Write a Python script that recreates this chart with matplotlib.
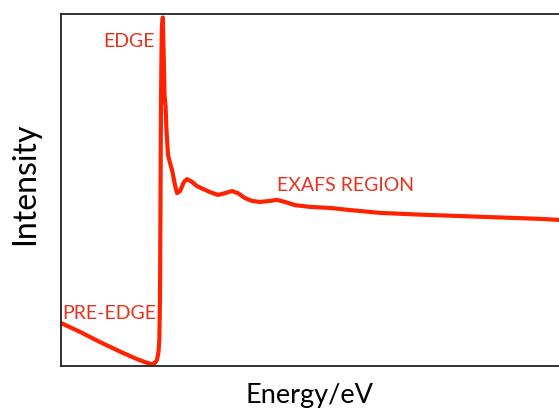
import matplotlib
matplotlib.use("Agg")
import matplotlib.pyplot as plt

# XAS spectrum (energy in arbitrary eV offset, intensity 0..1)
energy = [0, 19, 39, 59, 74, 84, 91, 94, 96, 97.5, 98.3, 99, 99.5, 100, 100.8,
          101.8, 102.8, 103.5, 104.5, 105.5, 107, 109, 111, 114, 116, 119, 123,
          126, 131, 136, 142, 149, 157, 164, 171, 177, 184, 191, 199, 209, 216,
          224, 234, 249, 269, 289, 319, 359, 399, 439, 479, 498]
intensity = [0.122, 0.097, 0.068, 0.041, 0.022, 0.011, 0.005, 0.009, 0.017,
             0.040, 0.074, 0.19, 0.47, 0.76, 0.955, 0.99, 0.87, 0.77, 0.74,
             0.67, 0.60, 0.577, 0.557, 0.514, 0.491, 0.497, 0.523, 0.531,
             0.523, 0.511, 0.503, 0.494, 0.486, 0.491, 0.497, 0.491, 0.477,
             0.469, 0.466, 0.469, 0.472, 0.466, 0.457, 0.452, 0.449, 0.443,
             0.435, 0.430, 0.426, 0.422, 0.418, 0.415]

# region labels: text, x, y
labels = ["EDGE", "EXAFS REGION", "PRE-EDGE"]
label_x = [42, 216, 1]
label_y = [0.906, 0.497, 0.134]

plt.rcParams['font.family'] = ['Lato', 'DejaVu Sans']

fig = plt.figure(figsize=(5.59, 4.11), dpi=100)
ax = fig.add_axes([61 / 559, 45 / 411, 499 / 559, 352 / 411])

ax.plot(energy, intensity, color="#ff2200", lw=3, solid_joinstyle="round")

for t, x, y in zip(labels, label_x, label_y):
    ax.text(x, y, t, color="#e8321e", fontsize=14, ha="left", va="baseline")

ax.set_xlim(0, 499)
ax.set_ylim(0, 1)
ax.set_xticks([])
ax.set_yticks([])
ax.spines["right"].set_visible(False)
for s in ["left", "top", "bottom"]:
    ax.spines[s].set_linewidth(1.3)
    ax.spines[s].set_color("#222222")

fig.text(25 / 559, 1 - 184 / 411, "Intensity", rotation=90, fontsize=23,
         ha="center", va="center")
fig.text(310 / 559, 1 - 403 / 411, "Energy/eV", fontsize=19.5,
         ha="center", va="baseline")

fig.savefig("out.png", dpi=100)
